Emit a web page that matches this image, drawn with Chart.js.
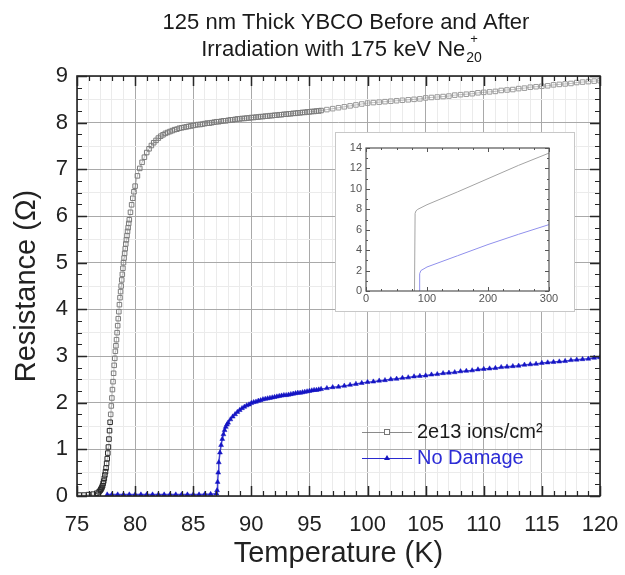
<!DOCTYPE html>
<html>
<head>
<meta charset="utf-8">
<title>125 nm Thick YBCO Before and After Irradiation</title>
<script src="https://cdn.jsdelivr.net/npm/chart.js@4.4.0/dist/chart.umd.min.js"></script>
<style>
  html, body { margin: 0; padding: 0; background: #fff; }
  #wrap { position: relative; width: 625px; height: 575px; }
  #inset { position: absolute; left: 335px; top: 132px; width: 238px; height: 178px;
           border: 1px solid #c8c8c8; background: #fff; }
</style>
</head>
<body>
<div id="wrap">
  <canvas id="mainChart" width="625" height="575"></canvas>
  <div id="inset"><canvas id="insetChart" width="238" height="178"></canvas></div>
</div>
<script>
// ---- data ----
const titleLine1 = '125 nm Thick YBCO Before and After';
const titleLine2 = 'Irradiation with 175 keV Ne';
const titleSub = '20';
const titleSup = '+';
const seriesNames = ['2e13 ions/cm\u00B2', 'No Damage'];

// irradiated film (2e13 ions/cm2)
const ionTemp = [
  75.2, 75.6, 76.0, 76.4, 76.7, 76.9,
  77.0, 77.05, 77.1, 77.15, 77.2, 77.25, 77.3, 77.35, 77.4, 77.45,
  77.5, 77.55, 77.6, 77.65, 77.7, 77.75, 77.8, 77.85, 77.9, 77.95,
  78.0, 78.05, 78.1, 78.15, 78.2, 78.25, 78.3, 78.35, 78.4, 78.45,
  78.5, 78.55, 78.6, 78.65, 78.7, 78.75, 78.8, 78.85, 78.9, 78.95,
  79.0, 79.05, 79.1, 79.15, 79.2, 79.25, 79.3, 79.35, 79.4, 79.45,
  79.5, 79.6, 79.7, 79.8, 79.9, 80.0, 80.2, 80.4, 80.6,
  80.8, 81.0, 81.2, 81.4, 81.6, 81.8, 82.0, 82.2, 82.4, 82.6,
  82.8, 83.0, 83.2, 83.4, 83.6, 83.8, 84.0, 84.2, 84.4, 84.6,
  84.8, 85.0, 85.2, 85.4, 85.6, 85.8, 86.0, 86.2, 86.4, 86.6,
  86.8, 87.0, 87.2, 87.4, 87.6, 87.8, 88.0, 88.2, 88.4, 88.6,
  88.8, 89.0, 89.2, 89.4, 89.6, 89.8, 90.0, 90.2, 90.4, 90.6,
  90.8, 91.0, 91.2, 91.4, 91.6, 91.8, 92.0, 92.2, 92.4, 92.6,
  92.8, 93.0, 93.2, 93.4, 93.6, 93.8, 94.0, 94.2, 94.4, 94.6,
  94.8, 95.0, 95.2, 95.4, 95.6, 95.8, 96.0, 96.5, 97.0, 97.5,
  98.0, 98.5, 99.0, 99.5, 100.0, 100.5, 101.0, 101.5, 102.0, 102.5,
  103.0, 103.5, 104.0, 104.5, 105.0, 105.5, 106.0, 106.5, 107.0, 107.5,
  108.0, 108.5, 109.0, 109.5, 110.0, 110.5, 111.0, 111.5, 112.0, 112.5,
  113.0, 113.5, 114.0, 114.5, 115.0, 115.5, 116.0, 116.5, 117.0, 117.5,
  118.0, 118.5, 119.0, 119.5, 120.0
];
const ionRes = [
  0.02, 0.02, 0.03, 0.04, 0.06, 0.09,
  0.12, 0.14, 0.16, 0.19, 0.22, 0.27, 0.32, 0.38, 0.45, 0.52,
  0.6, 0.7, 0.8, 0.92, 1.05, 1.22, 1.4, 1.58, 1.75, 1.93,
  2.1, 2.28, 2.45, 2.63, 2.8, 2.95, 3.1, 3.22, 3.35, 3.5,
  3.65, 3.8, 3.95, 4.1, 4.25, 4.38, 4.5, 4.63, 4.75, 4.88,
  5.0, 5.1, 5.2, 5.3, 5.4, 5.49, 5.58, 5.67, 5.75, 5.84,
  5.92, 6.08, 6.24, 6.38, 6.52, 6.64, 6.86, 7.02, 7.15,
  7.26, 7.36, 7.44, 7.51, 7.57, 7.62, 7.67, 7.71, 7.74, 7.77,
  7.79, 7.81, 7.83, 7.85, 7.86, 7.88, 7.89, 7.9, 7.91, 7.92,
  7.93, 7.94, 7.95, 7.96, 7.96, 7.97, 7.98, 7.99, 7.99, 8.0,
  8.01, 8.02, 8.02, 8.03, 8.04, 8.04, 8.05, 8.06, 8.06, 8.07,
  8.08, 8.08, 8.09, 8.09, 8.1, 8.1, 8.11, 8.11, 8.12, 8.12,
  8.13, 8.13, 8.14, 8.14, 8.15, 8.15, 8.16, 8.16, 8.17, 8.17,
  8.18, 8.18, 8.19, 8.19, 8.2, 8.2, 8.21, 8.21, 8.22, 8.22,
  8.23, 8.23, 8.24, 8.24, 8.25, 8.25, 8.26, 8.28, 8.3, 8.32,
  8.34, 8.36, 8.38, 8.4, 8.42, 8.43, 8.44, 8.45, 8.46, 8.47,
  8.48, 8.49, 8.5, 8.51, 8.53, 8.54, 8.55, 8.56, 8.57, 8.59,
  8.6, 8.61, 8.62, 8.64, 8.65, 8.66, 8.67, 8.69, 8.7, 8.71,
  8.73, 8.74, 8.76, 8.77, 8.78, 8.79, 8.81, 8.82, 8.83, 8.84,
  8.86, 8.87, 8.88, 8.89, 8.9
];

// pristine film (No Damage)
const cleanTemp = [
  77.6, 78.0, 78.5, 79.0, 79.5, 80.0, 80.5, 81.0, 81.5, 82.0,
  82.5, 83.0, 83.5, 84.0, 84.5, 85.0, 85.5, 86.0, 86.5, 87.0,
  87.05, 87.1, 87.15, 87.2, 87.3, 87.4, 87.5, 87.6, 87.7, 87.8,
  87.9, 88.0, 88.2, 88.4, 88.6, 88.8, 89.0, 89.2, 89.4, 89.6,
  89.8, 90.0, 90.2, 90.4, 90.6, 90.8, 91.0, 91.2, 91.4, 91.6,
  91.8, 92.0, 92.2, 92.4, 92.6, 92.8, 93.0, 93.2, 93.4, 93.6,
  93.8, 94.0, 94.2, 94.4, 94.6, 94.8, 95.0, 95.2, 95.4, 95.6,
  95.8, 96.0, 96.5, 97.0, 97.5, 98.0, 98.5, 99.0, 99.5, 100.0,
  100.5, 101.0, 101.5, 102.0, 102.5, 103.0, 103.5, 104.0, 104.5, 105.0,
  105.5, 106.0, 106.5, 107.0, 107.5, 108.0, 108.5, 109.0, 109.5, 110.0,
  110.5, 111.0, 111.5, 112.0, 112.5, 113.0, 113.5, 114.0, 114.5, 115.0,
  115.5, 116.0, 116.5, 117.0, 117.5, 118.0, 118.5, 119.0, 119.5, 120.0
];
const cleanRes = [
  0.03, 0.03, 0.03, 0.03, 0.03, 0.03, 0.03, 0.03, 0.03, 0.03,
  0.03, 0.03, 0.03, 0.03, 0.03, 0.03, 0.03, 0.04, 0.04, 0.05,
  0.12, 0.3, 0.5, 0.72, 0.93, 1.09, 1.22, 1.32, 1.41, 1.48,
  1.53, 1.57, 1.64, 1.7, 1.75, 1.8, 1.84, 1.88, 1.91, 1.94,
  1.96, 1.99, 2.01, 2.02, 2.04, 2.05, 2.07, 2.08, 2.09, 2.1,
  2.11, 2.12, 2.13, 2.14, 2.15, 2.16, 2.16, 2.17, 2.18, 2.19,
  2.2, 2.21, 2.21, 2.22, 2.23, 2.24, 2.25, 2.26, 2.27, 2.27,
  2.28, 2.29, 2.31, 2.33, 2.34, 2.36, 2.38, 2.4, 2.42, 2.44,
  2.45, 2.47, 2.48, 2.5, 2.51, 2.53, 2.54, 2.56, 2.57, 2.58,
  2.6, 2.61, 2.63, 2.64, 2.65, 2.67, 2.68, 2.69, 2.71, 2.72,
  2.73, 2.74, 2.76, 2.77, 2.78, 2.79, 2.81, 2.82, 2.83, 2.85,
  2.86, 2.87, 2.88, 2.89, 2.91, 2.92, 2.93, 2.94, 2.96, 2.97
];

// inset: full range up to 300 K
const insetIonTemp = [79.5, 80.5, 82, 85, 100, 150, 200, 250, 300];
const insetIonRes = [0, 7.6, 7.85, 8.0, 8.45, 9.7, 11.0, 12.3, 13.5];
const insetCleanTemp = [87, 87.5, 88.5, 90, 100, 150, 200, 250, 300];
const insetCleanRes = [0, 1.3, 1.7, 2.0, 2.35, 3.45, 4.55, 5.55, 6.5];

// axis ranges / tick labels
const xMin = 75, xMax = 120, xMajor = 5;
const yMin = 0, yMax = 9, yMajor = 1;
const insetXMax = 300, insetYMax = 14;

const FONT = '"Liberation Sans", Arial, Helvetica, sans-serif';

function pts(xs, ys) {
  return xs.map((x, i) => ({ x: x, y: ys[i] }));
}
function isMajor(v, step) {
  const r = v / step;
  return Math.abs(r - Math.round(r)) < 1e-6;
}
// keep the plot box where the reference has it (no extra room for edge labels)
function fixXAxis(h) {
  return s => { s.height = h; s.paddingLeft = 0; s.paddingRight = 0; };
}

// inward tick marks on all four sides + frame
const frameTicks = {
  id: 'frameTicks',
  afterDatasetsDraw(chart, args, opts) {
    const { ctx, chartArea: a, scales: { x, y } } = chart;
    ctx.save();
    ctx.strokeStyle = opts.color;
    x.ticks.forEach(t => {
      const px = Math.round(x.getPixelForValue(t.value)) + 0.5;
      const major = isMajor(t.value, opts.xMajor);
      const len = major ? opts.majorLen : opts.minorLen;
      ctx.lineWidth = major ? opts.majorWidth : opts.minorWidth;
      ctx.beginPath();
      ctx.moveTo(px, a.bottom); ctx.lineTo(px, a.bottom - len);
      ctx.moveTo(px, a.top); ctx.lineTo(px, a.top + len);
      ctx.stroke();
    });
    y.ticks.forEach(t => {
      const py = Math.round(y.getPixelForValue(t.value)) + 0.5;
      const major = isMajor(t.value, opts.yMajor);
      const len = major ? opts.majorLen : opts.minorLen;
      ctx.lineWidth = major ? opts.majorWidth : opts.minorWidth;
      ctx.beginPath();
      ctx.moveTo(a.left, py); ctx.lineTo(a.left + len, py);
      ctx.moveTo(a.right, py); ctx.lineTo(a.right - len, py);
      ctx.stroke();
    });
    ctx.lineWidth = opts.frameWidth;
    ctx.strokeRect(a.left, a.top, a.right - a.left, a.bottom - a.top);
    ctx.restore();
  }
};

// two-line title (with Ne subscript/superscript) and the in-plot legend
const titleAndLegend = {
  id: 'titleAndLegend',
  afterDraw(chart) {
    const ctx = chart.ctx;
    ctx.save();
    ctx.fillStyle = '#1a1a1a';
    ctx.textBaseline = 'alphabetic';
    ctx.textAlign = 'center';
    ctx.font = '22px ' + FONT;
    ctx.fillText(titleLine1, 346, 29);

    ctx.textAlign = 'left';
    const w2 = ctx.measureText(titleLine2).width;
    ctx.font = '14px ' + FONT;
    const wSub = ctx.measureText(titleSub).width;
    const x2 = 341 - (w2 + wSub) / 2;
    ctx.font = '22px ' + FONT;
    ctx.fillText(titleLine2, x2, 56);
    ctx.font = '14px ' + FONT;
    ctx.fillText(titleSub, x2 + w2 + 1, 62);
    ctx.font = '13px ' + FONT;
    ctx.fillText(titleSup, x2 + w2 + 5, 43);

    // legend
    const rows = [
      { y: 432, line: 'rgba(110,110,110,0.8)', text: '#1a1a1a', kind: 'rect' },
      { y: 458, line: '#2a2ad0', text: '#2c2cd6', kind: 'tri' }
    ];
    rows.forEach((r, i) => {
      ctx.strokeStyle = r.line;
      ctx.lineWidth = 1;
      ctx.beginPath();
      ctx.moveTo(362, r.y + 0.5); ctx.lineTo(412, r.y + 0.5);
      ctx.stroke();
      if (r.kind === 'rect') {
        ctx.fillStyle = '#fff';
        ctx.fillRect(384, r.y - 3, 6, 6);
        ctx.strokeStyle = '#777';
        ctx.strokeRect(384.5, r.y - 2.5, 5, 5);
      } else {
        ctx.fillStyle = '#1515c0';
        ctx.beginPath();
        ctx.moveTo(387, r.y - 3); ctx.lineTo(390, r.y + 2); ctx.lineTo(384, r.y + 2);
        ctx.closePath(); ctx.fill();
      }
      ctx.fillStyle = r.text;
      ctx.font = '20px ' + FONT;
      ctx.textBaseline = 'middle';
      ctx.fillText(seriesNames[i], 417, r.y);
    });
    ctx.restore();
  }
};

new Chart(document.getElementById('mainChart'), {
  type: 'scatter',
  data: {
    datasets: [
      {
        label: seriesNames[0],
        data: pts(ionTemp, ionRes),
        showLine: true,
        borderColor: 'rgba(120,120,120,0.45)',
        borderWidth: 1,
        pointStyle: 'rect',
        pointRadius: 3.2,
        pointBorderWidth: 1,
        // darker where the transition points pile up, lighter on the sparse tail
        pointBorderColor: c => c.raw.y < 1.7 ? '#2a2a2a' : (c.raw.x > 96 ? '#9a9a9a' : '#7c7c7c'),
        pointBackgroundColor: 'rgba(255,255,255,0)'
      },
      {
        label: seriesNames[1],
        data: pts(cleanTemp, cleanRes),
        showLine: true,
        borderColor: 'rgba(20,20,200,0.8)',
        borderWidth: 1.5,
        pointStyle: 'triangle',
        pointRadius: 2.8,
        pointBorderWidth: 0.5,
        pointBorderColor: '#1414c4',
        pointBackgroundColor: '#1414c4'
      }
    ]
  },
  options: {
    responsive: false,
    animation: false,
    events: [],
    layout: { padding: { top: 76, right: 25, left: 0, bottom: 0 } },
    plugins: {
      legend: { display: false },
      title: { display: false },
      tooltip: { enabled: false },
      frameTicks: { color: '#262626', xMajor: xMajor, yMajor: yMajor, majorLen: 10, minorLen: 5,
                    majorWidth: 1.5, minorWidth: 1.2, frameWidth: 1.6 }
    },
    scales: {
      x: {
        type: 'linear',
        min: xMin, max: xMax,
        afterFit: fixXAxis(79),
        border: { display: false },
        grid: {
          drawTicks: false,
          color: c => isMajor(c.tick.value, xMajor) ? '#a9a9a9' : '#ebebeb',
          lineWidth: 1
        },
        ticks: {
          stepSize: 1, autoSkip: false, maxRotation: 0, padding: 16,
          color: '#222', font: { family: FONT, size: 22 },
          callback: v => isMajor(v, xMajor) ? String(v) : ''
        },
        title: {
          display: true, text: 'Temperature (K)', color: '#222',
          font: { family: FONT, size: 29 }, padding: { top: 0, bottom: 4 }
        }
      },
      y: {
        type: 'linear',
        min: yMin, max: yMax,
        afterFit: s => { s.width = 77; },
        border: { display: false },
        grid: {
          drawTicks: false,
          color: c => isMajor(c.tick.value, yMajor) ? '#a9a9a9'
                     : (isMajor(c.tick.value, 0.5) ? '#ebebeb' : 'rgba(0,0,0,0)'),
          lineWidth: 1
        },
        ticks: {
          stepSize: 0.25, autoSkip: false, padding: 9,
          color: '#222', font: { family: FONT, size: 22 },
          callback: v => isMajor(v, yMajor) ? String(v) : ''
        },
        title: {
          display: true, text: 'Resistance (\u03A9)', color: '#222',
          font: { family: FONT, size: 29 }, padding: { top: 10, bottom: 0 }
        }
      }
    }
  },
  plugins: [frameTicks, titleAndLegend]
});

new Chart(document.getElementById('insetChart'), {
  type: 'scatter',
  data: {
    datasets: [
      {
        data: pts(insetIonTemp, insetIonRes),
        showLine: true, borderColor: '#a4a4a4', borderWidth: 1, pointRadius: 0
      },
      {
        data: pts(insetCleanTemp, insetCleanRes),
        showLine: true, borderColor: '#9090ec', borderWidth: 1, pointRadius: 0
      }
    ]
  },
  options: {
    responsive: false,
    animation: false,
    events: [],
    layout: { padding: { top: 15, right: 25, left: 0, bottom: 0 } },
    plugins: {
      legend: { display: false },
      tooltip: { enabled: false },
      frameTicks: { color: '#555', xMajor: 100, yMajor: 2, majorLen: 4, minorLen: 2,
                    majorWidth: 1, minorWidth: 1, frameWidth: 1.2 }
    },
    scales: {
      x: {
        type: 'linear', min: 0, max: insetXMax,
        afterFit: fixXAxis(20),
        border: { display: false },
        grid: { display: false, drawTicks: false },
        ticks: {
          stepSize: 25, autoSkip: false, maxRotation: 0, padding: 1,
          color: '#555', font: { family: FONT, size: 11 },
          callback: v => isMajor(v, 100) ? String(v) : ''
        }
      },
      y: {
        type: 'linear', min: 0, max: insetYMax,
        afterFit: s => { s.width = 30; },
        border: { display: false },
        grid: { display: false, drawTicks: false },
        ticks: {
          stepSize: 1, autoSkip: false, padding: 4,
          color: '#555', font: { family: FONT, size: 11 },
          callback: v => isMajor(v, 2) ? String(v) : ''
        }
      }
    }
  },
  plugins: [frameTicks]
});
</script>
</body>
</html>
